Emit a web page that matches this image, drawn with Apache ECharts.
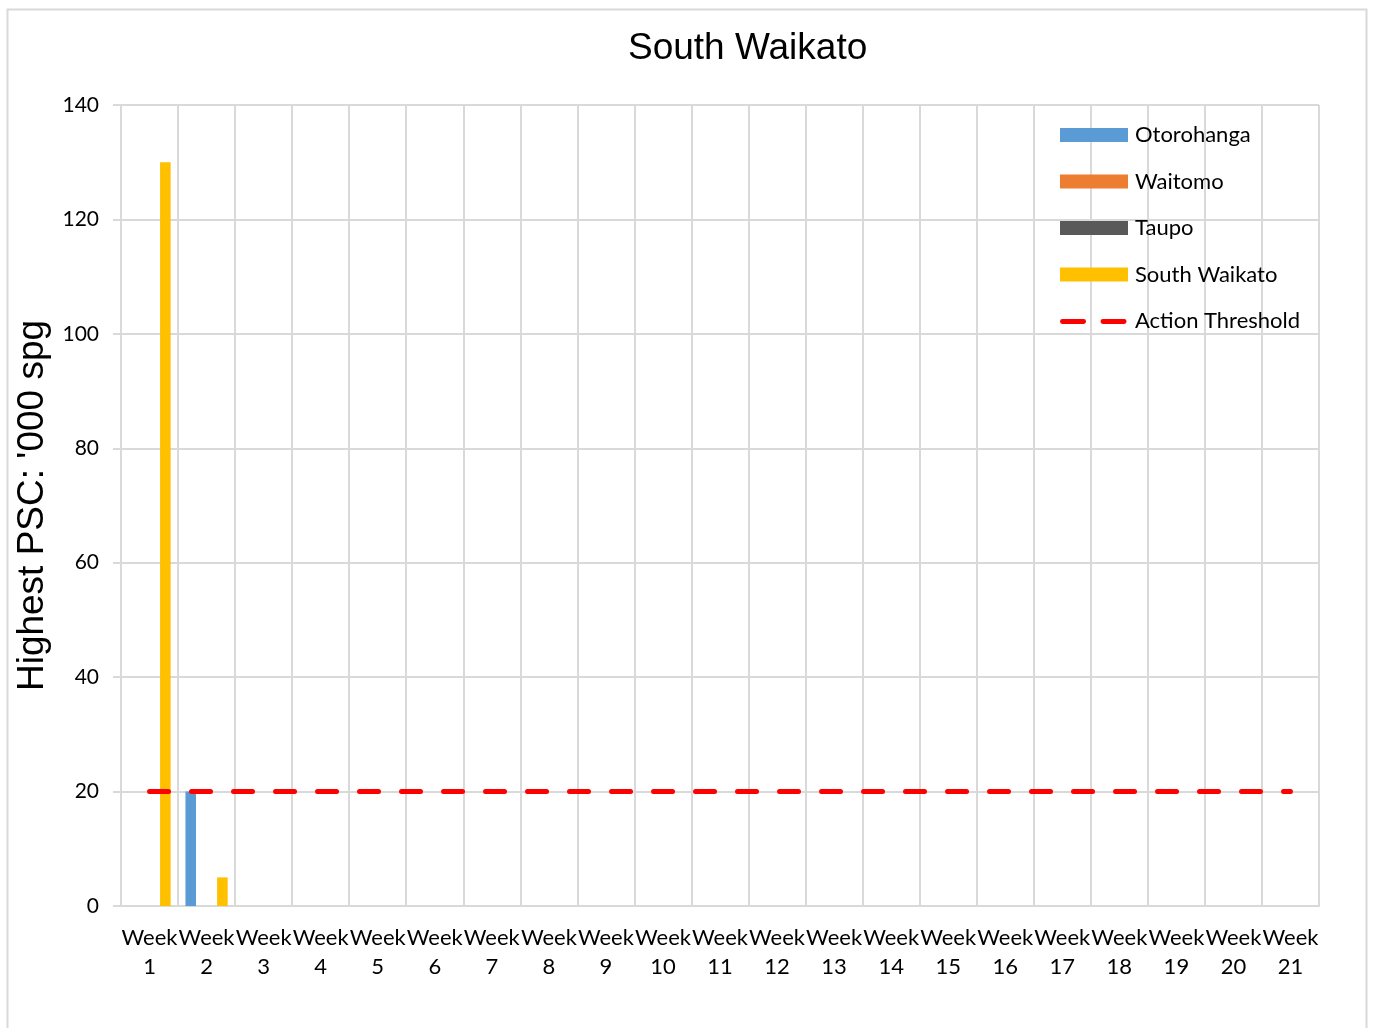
<!DOCTYPE html>
<html>
<head>
<meta charset="utf-8">
<title>South Waikato</title>
<script src="https://cdn.jsdelivr.net/npm/echarts@6/dist/echarts.min.js"></script>
<style>
  html, body { margin: 0; padding: 0; background: #fff; }
  #chart { width: 1373px; height: 1028px; }
</style>
</head>
<body>
<div id="chart"></div>
<script>
// categories
const weeks = ["Week 1", "Week 2", "Week 3", "Week 4", "Week 5", "Week 6", "Week 7",
  "Week 8", "Week 9", "Week 10", "Week 11", "Week 12", "Week 13", "Week 14",
  "Week 15", "Week 16", "Week 17", "Week 18", "Week 19", "Week 20", "Week 21"];

// series values ('000 spg), null = no sample
const otorohanga = [null, 20, null, null, null, null, null, null, null, null, null,
  null, null, null, null, null, null, null, null, null, null];
const waitomo = [null, null, null, null, null, null, null, null, null, null, null,
  null, null, null, null, null, null, null, null, null, null];
const taupo = [null, null, null, null, null, null, null, null, null, null, null,
  null, null, null, null, null, null, null, null, null, null];
const southWaikato = [130, 5, null, null, null, null, null, null, null, null, null,
  null, null, null, null, null, null, null, null, null, null];
const actionThreshold = [20, 20, 20, 20, 20, 20, 20, 20, 20, 20, 20,
  20, 20, 20, 20, 20, 20, 20, 20, 20, 20];

const palette = {
  otorohanga: "#5B9BD5",
  waitomo: "#ED7D31",
  taupo: "#595959",
  southWaikato: "#FFC000",
  threshold: "#FF0000",
  grid: "#D9D9D9",
};

const labelFont = "Lato, 'Open Sans', sans-serif";

// two red dashes for the threshold legend entry (zero-size subpaths keep the box 68x14)
const dashIcon = "path://M0,0L0,0M68,14L68,14" +
  "M0,5h22a2.5,2.5 0 0 1 0,5h-22a2.5,2.5 0 0 1 0,-5z" +
  "M42,5h22a2.5,2.5 0 0 1 0,5h-22a2.5,2.5 0 0 1 0,-5z";

const chart = echarts.init(document.getElementById("chart"));

const barSeries = (name, data, color) => ({
  name,
  type: "bar",
  data,
  barGap: "0%",
  barCategoryGap: "26%",
  itemStyle: { color },
});

chart.setOption({
  backgroundColor: "#fff",
  animation: false,
  title: {
    text: "South Waikato",
    left: 623,
    top: 25,
    textStyle: {
      fontFamily: "'Liberation Sans', Arial, sans-serif",
      fontSize: 37,
      fontWeight: "normal",
      color: "#000",
    },
  },
  graphic: [
    {
      type: "rect",
      shape: { x: 7.5, y: 9.5, width: 1359, height: 1040 },
      style: { fill: "none", stroke: "#D9D9D9", lineWidth: 2 },
      silent: true,
    },
  ],
  legend: {
    orient: "vertical",
    left: 1060,
    top: 124,
    padding: 0,
    itemWidth: 68,
    itemHeight: 14,
    itemGap: 24.5,
    textStyle: {
      fontFamily: labelFont,
      fontSize: 22,
      color: "#000",
      lineHeight: 20,
      padding: [0, 0, 0, 2],
    },
    data: [
      { name: "Otorohanga", icon: "rect" },
      { name: "Waitomo", icon: "rect" },
      { name: "Taupo", icon: "rect" },
      { name: "South Waikato", icon: "rect" },
      { name: "Action Threshold", icon: dashIcon },
    ],
  },
  grid: {
    left: 121,
    right: 54,
    top: 105,
    bottom: 122,
  },
  xAxis: {
    type: "category",
    data: weeks,
    axisTick: { show: false },
    axisLine: { lineStyle: { color: palette.grid, width: 2 } },
    splitLine: { show: true, lineStyle: { color: palette.grid, width: 2 } },
    axisLabel: {
      interval: 0,
      margin: 17,
      fontFamily: labelFont,
      fontSize: 22,
      lineHeight: 29,
      color: "#000",
      formatter: (v) => v.replace(" ", "\n"),
    },
  },
  yAxis: {
    type: "value",
    min: 0,
    max: 140,
    interval: 20,
    name: "Highest PSC: '000 spg",
    nameLocation: "middle",
    nameRotate: 90,
    nameGap: 68,
    nameTextStyle: {
      fontFamily: "'Liberation Sans', Arial, sans-serif",
      fontSize: 37,
      color: "#000",
    },
    axisLine: { show: false },
    axisTick: { show: true, length: 8, lineStyle: { color: palette.grid, width: 2 } },
    splitLine: { lineStyle: { color: palette.grid, width: 2 } },
    axisLabel: {
      margin: 22,
      fontFamily: labelFont,
      fontSize: 21,
      color: "#000",
    },
  },
  series: [
    barSeries("Otorohanga", otorohanga, palette.otorohanga),
    barSeries("Waitomo", waitomo, palette.waitomo),
    barSeries("Taupo", taupo, palette.taupo),
    barSeries("South Waikato", southWaikato, palette.southWaikato),
    {
      name: "Action Threshold",
      type: "line",
      data: actionThreshold,
      symbol: "none",
      itemStyle: { color: palette.threshold },
      lineStyle: {
        color: palette.threshold,
        width: 5,
        type: [19, 23],
        cap: "round",
      },
      z: 5,
    },
  ],
});
</script>
</body>
</html>
